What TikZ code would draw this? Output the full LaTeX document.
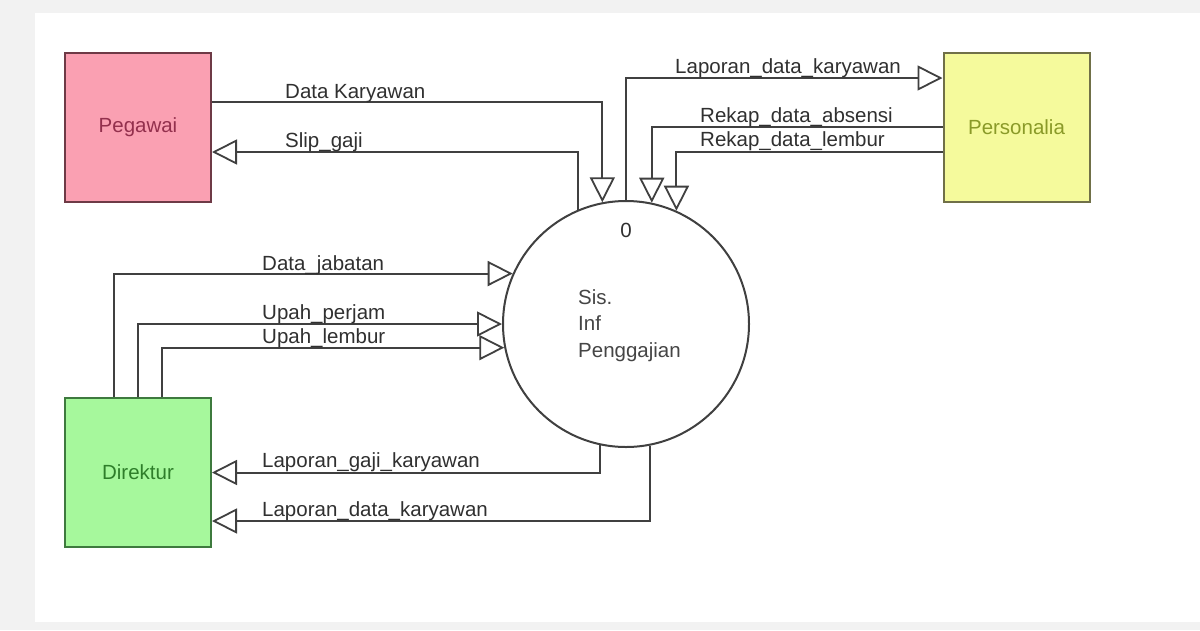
\documentclass[tikz,border=0pt]{standalone}
\usepackage{fontspec}
\setmainfont{Liberation Sans}
\usetikzlibrary{arrows.meta}
\definecolor{bggray}{HTML}{F2F2F2}
\definecolor{linec}{HTML}{404040}
\definecolor{txtc}{HTML}{303030}
\definecolor{pinkf}{HTML}{FAA0B2}
\definecolor{pinkd}{HTML}{6E3A46}
\definecolor{pinkt}{HTML}{93304D}
\definecolor{yelf}{HTML}{F5FA9C}
\definecolor{yeld}{HTML}{707048}
\definecolor{yelt}{HTML}{8A9A28}
\definecolor{grnf}{HTML}{A6F89C}
\definecolor{grnd}{HTML}{3E7A3E}
\definecolor{grnt}{HTML}{2E7E2A}
\tikzset{
  entity/.style={draw, line width=2pt, minimum width=146pt, minimum height=149pt, inner sep=0pt, font=\fontsize{20.5}{24}\selectfont},
  flow/.style={draw=linec, line width=2pt, -{Triangle[open, length=25pt, width=25pt, line width=1.8pt]}},
  lbl/.style={anchor=base west, inner sep=0pt, text=txtc, font=\fontsize{20.5}{24}\selectfont},
  ptxt/.style={anchor=base west, inner sep=0pt, text=txtc!90!white, font=\fontsize{20.5}{24}\selectfont}
}
\begin{document}
\begin{tikzpicture}[x=1pt, y=-1pt]
\useasboundingbox (0,0) rectangle (1200,630);
\fill[bggray] (0,0) rectangle (1200,630);
\fill[white] (35,13) rectangle (1200,622);

\node[entity, fill=pinkf, draw=pinkd, text=pinkt] (peg) at (138,127.5) {Pegawai};
\node[entity, fill=yelf, draw=yeld, text=yelt] (pers) at (1016.5,127.5) {Personalia};
\node[entity, fill=grnf, draw=grnd, text=grnt] (dir) at (138,472.5) {Direktur};
\node[circle, draw=linec, line width=2pt, minimum size=246pt, inner sep=0pt] (proc) at (626,324) {};

\node[anchor=base, inner sep=0pt, text=txtc, font=\fontsize{20.5}{24}\selectfont] (pnum) at (626,237) {0};
\node[ptxt] (pt1) at (578,304) {Sis.};
\node[ptxt] (pt2) at (578,330) {Inf};
\node[ptxt] (pt3) at (578,357) {Penggajian};

% Pegawai
\draw[flow] ([yshift=25.5pt]peg.east) -| (proc.101.25);
\draw[flow] (proc.113.5) |- ([yshift=-24.5pt]peg.east);
% Personalia
\draw[flow] (proc.north) |- ([yshift=49.5pt]pers.west);
\draw[flow] ([yshift=0.5pt]pers.west) -| (proc.78.3);
\draw[flow] ([yshift=-24.5pt]pers.west) -| (proc.66.5);
% Direktur
\draw[flow] ([xshift=-24pt]dir.north) |- (proc.156);
\draw[flow] (dir.north) |- (proc.west);
\draw[flow] ([xshift=24pt]dir.north) |- (proc.191.25);
\draw[flow] (proc.258.75) |- (dir.east);
\draw[flow] (proc.281.7) |- ([yshift=-48.5pt]dir.east);

% labels
\node[lbl] (l1) at (285,98) {Data Karyawan};
\node[lbl] (l2) at (285,147) {Slip\_gaji};
\node[lbl] (l3) at (675,73) {Laporan\_data\_karyawan};
\node[lbl] (l4) at (700,122) {Rekap\_data\_absensi};
\node[lbl] (l5) at (700,146) {Rekap\_data\_lembur};
\node[lbl] (l6) at (262,270) {Data\_jabatan};
\node[lbl] (l7) at (262,319) {Upah\_perjam};
\node[lbl] (l8) at (262,343) {Upah\_lembur};
\node[lbl] (l9) at (262,467) {Laporan\_gaji\_karyawan};
\node[lbl] (l10) at (262,516) {Laporan\_data\_karyawan};
\end{tikzpicture}
\end{document}
